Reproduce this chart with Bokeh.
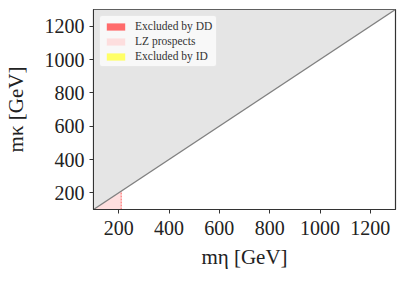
from bokeh.plotting import figure
from bokeh.embed import file_html
from bokeh.resources import INLINE
from bokeh.models import Range1d, Legend, LegendItem, FixedTicker

# data
m_range = [100, 1300]            # mass range (GeV)
diag_x = [100, 1300]             # m_kappa = m_eta line
lz_x = [100, 210]                # LZ prospects region in m_eta
lz_edge = 210                    # LZ boundary
dd_x = [100, 100]                # excluded by DD (no visible area)
id_x = [100, 100]                # excluded by ID (no visible area)
ticks = [200, 400, 600, 800, 1000, 1200]

p = figure(width=398, height=271, output_backend="svg", toolbar_location=None,
           x_range=Range1d(m_range[0], m_range[1]), y_range=Range1d(m_range[0], m_range[1]),
           min_border_left=85, min_border_right=3, min_border_top=9, min_border_bottom=60)

serif = "Liberation Serif"

# gray region above diagonal
p.varea(x=diag_x, y1=diag_x, y2=[m_range[1]] * 2, fill_color="#e5e5e5")
# LZ prospects
lz = p.varea(x=lz_x, y1=[m_range[0]] * 2, y2=lz_x, fill_color="#ffd3d3", fill_alpha=0.7)
p.line(x=[lz_edge, lz_edge], y=[m_range[0], lz_edge], line_color="#ff6060",
       line_dash="2 1", line_width=1)
# diagonal
p.line(x=diag_x, y=diag_x, line_color="#808080", line_width=1.3)

dd = p.varea(x=dd_x, y1=dd_x, y2=dd_x, fill_color="#ff6b6b")
idr = p.varea(x=id_x, y1=id_x, y2=id_x, fill_color="#ffff66")

legend = Legend(items=[
    LegendItem(label="Excluded by DD", renderers=[dd]),
    LegendItem(label="LZ prospects", renderers=[lz]),
    LegendItem(label="Excluded by ID", renderers=[idr]),
], location="top_left")
legend.label_text_font = serif
legend.label_text_font_size = "11.5px"
legend.label_text_color = "#333333"
legend.glyph_width = 23
legend.glyph_height = 9
legend.label_height = 12
legend.spacing = 3
legend.padding = 4
legend.margin = 6
legend.label_standoff = 8
legend.background_fill_color = "#fafafa"
legend.background_fill_alpha = 0.9
legend.border_line_color = "#d8d8d8"
legend.border_radius = 3
p.add_layout(legend)

p.grid.visible = False
p.outline_line_color = "#333333"
p.outline_line_width = 1.2
for ax in (p.xaxis, p.yaxis):
    ax.ticker = FixedTicker(ticks=ticks)
    ax.minor_tick_line_color = None
    ax.major_tick_out = 4
    ax.major_tick_in = 0
    ax.axis_line_color = "#333333"
    ax.major_tick_line_color = "#333333"
    ax.major_label_text_font = serif
    ax.major_label_text_font_size = "20px"
    ax.major_label_text_color = "#222222"
    ax.axis_label_text_font = serif
    ax.axis_label_text_font_size = "21px"
    ax.axis_label_text_font_style = "normal"
    ax.axis_label_text_color = "#222222"

p.xaxis.axis_label = "mη [GeV]"
p.yaxis.axis_label = "mκ [GeV]"
p.xaxis.major_label_standoff = 7
p.yaxis.major_label_standoff = 5
p.xaxis.axis_label_standoff = 7
p.yaxis.axis_label_standoff = 14

open("out.html", "w").write(file_html(p, INLINE))
